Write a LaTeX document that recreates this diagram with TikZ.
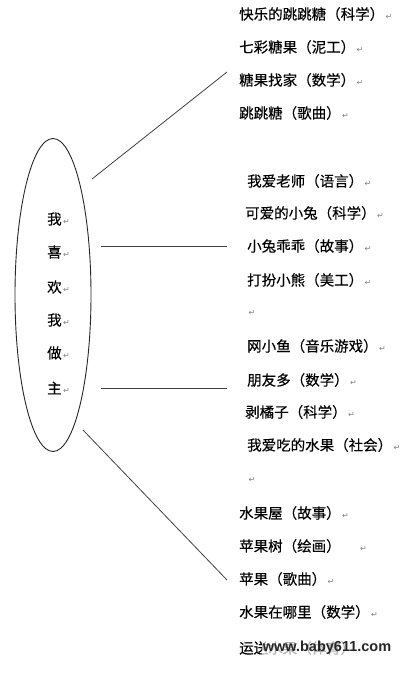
\documentclass[tikz,border=0pt]{standalone}
\usepackage{fontspec}
\usetikzlibrary{shapes.geometric}
\newfontfamily\cjk[FakeBold=0.3]{Noto Sans CJK SC}
\newfontfamily\symfont{DejaVu Sans}
\newfontfamily\webfont{Liberation Sans}
\newcommand{\pmark}{{\symfont\fontsize{8}{8}\selectfont\color{black!50}\,↵}}

\tikzset{
  item/.style={anchor=west,inner sep=0pt,font=\cjk\fontsize{14.5}{16}\selectfont},
  link/.style={black!75,line width=0.8pt},
}

\begin{document}
\begin{tikzpicture}[x=1pt,y=-1pt]
  \path[use as bounding box] (0,0) rectangle (407,675);

  % Centre ellipse with the theme written top to bottom.
  \node[draw=black!85,line width=0.9pt,ellipse,minimum width=76pt,
    minimum height=313pt,inner sep=0pt] (hub) at (53,295) {};
  \foreach \i/\yy/\ch in {1/219/我,2/252/喜,3/287/欢,4/320/我,5/353/做,6/388/主}{
    \node[item] (theme\i) at (47,\yy) {\ch\pmark};
  }

  % Candy activities.
  \foreach \i/\yy/\txt in {1/14/{快乐的跳跳糖（科学）},2/47/{七彩糖果（泥工）},
      3/80/{糖果找家（数学）},4/113/{跳跳糖（歌曲）}}{
    \node[item] (candy\i) at (239,\yy) {\txt\pmark};
  }

  % Animal and friend activities.
  \foreach \i/\xx/\yy/\txt in {1/247/181/{我爱老师（语言）},2/245/213/{可爱的小兔（科学）},
      3/247/246/{小兔乖乖（故事）},4/247/280/{打扮小熊（美工）},5/247/313/{},
      6/247/346/{网小鱼（音乐游戏）},7/247/380/{朋友多（数学）},8/245/412/{剥橘子（科学）},
      9/247/445/{我爱吃的水果（社会）},10/247/480/{}}{
    \node[item] (pal\i) at (\xx,\yy) {\txt\pmark};
  }

  % Fruit activities.
  \foreach \i/\yy/\txt in {1/513/{水果屋（故事）},2/546/{苹果树（绘画）\hspace{18pt}},
      3/579/{苹果（歌曲）},4/612/{水果在哪里（数学）}}{
    \node[item] (fruit\i) at (239,\yy) {\txt\pmark};
  }
  \node[item] (fruit5) at (239,648) {运送水果（体育）};
  \node[inner sep=1pt,fill=white,fill opacity=0.7,text opacity=1,text=black!85,
    font=\webfont\bfseries\fontsize{14.5}{16}\selectfont] (mark) at (327,648) {www.baby611.com};

  % Branch lines.
  \coordinate (s1) at (92,179);  \coordinate (e1) at (227,72);
  \coordinate (s2) at (101,246); \coordinate (e2) at (227,246);
  \coordinate (s3) at (101,388); \coordinate (e3) at (227,388);
  \coordinate (s4) at (83,430);  \coordinate (e4) at (227,580);
  \foreach \k in {1,...,4}{
    \draw[link] (s\k) -- (e\k);
  }
\end{tikzpicture}
\end{document}
